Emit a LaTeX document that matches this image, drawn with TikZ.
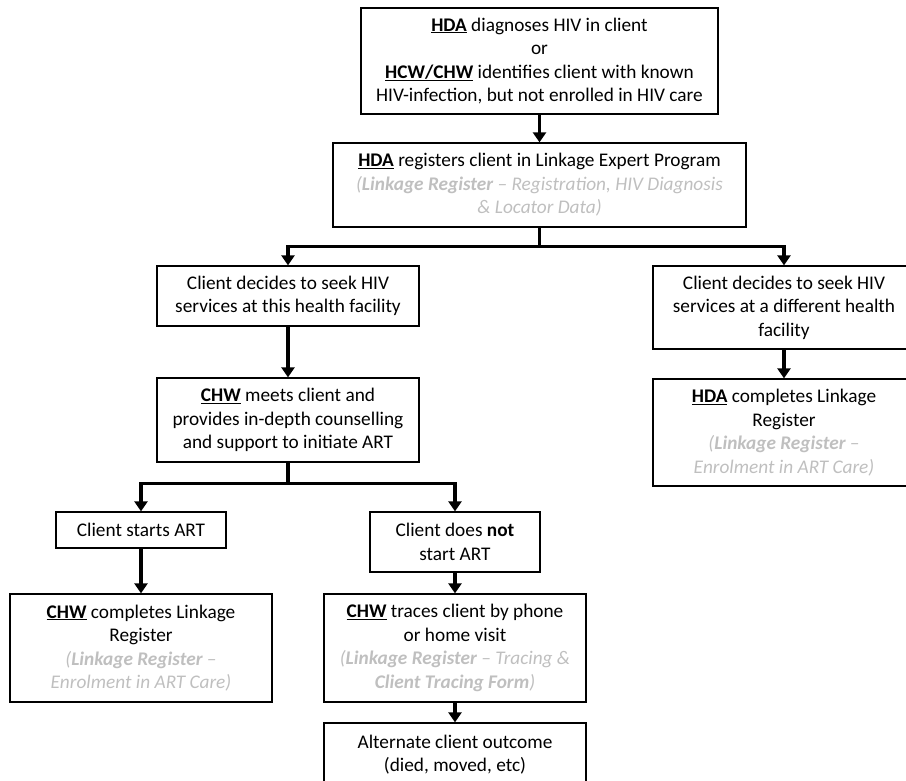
\documentclass[tikz,border=0pt]{standalone}
\usepackage{fontspec}
\setmainfont{Carlito}
\usetikzlibrary{arrows.meta}
\definecolor{notegrey}{RGB}{191,191,191}
\newcommand{\actor}[1]{\underline{\textbf{#1}}}
\newcommand{\regnote}[1]{{\color{notegrey}\itshape #1}}

\begin{document}
\begin{tikzpicture}[x=1pt,y=-1pt,
    box/.style={draw,line width=1.3pt,align=center,inner sep=0pt,
        font=\fontsize{19.3}{23.5}\selectfont},
    flow/.style={line width=3.2pt},
    flowarrow/.style={line width=3.2pt,-{Triangle[length=10pt,width=13pt]}}]
        \useasboundingbox (0,0) rectangle (906,781);

        % Diagnosis and registration
        \node[box,minimum width=357pt,minimum height=106pt] (diag) at (539.5,61)
            {\actor{HDA} diagnoses HIV in client\\ or\\
             \actor{HCW/CHW} identifies client with known\\
             HIV-infection, but not enrolled in HIV care};
        \node[box,minimum width=413pt,minimum height=84pt] (reg) at (539.5,185)
            {\actor{HDA} registers client in Linkage Expert Program\\
             \regnote{(\textbf{Linkage Register} -- Registration, HIV Diagnosis}\\
             \regnote{\& Locator Data)}};

        % Choice of facility
        \node[box,minimum width=262pt,minimum height=60pt] (here) at (288,296)
            {Client decides to seek HIV\\ services at this health facility};
        \node[box,minimum width=262pt,minimum height=83pt] (diff) at (784,307.5)
            {Client decides to seek HIV\\ services at a different health\\ facility};
        \node[box,minimum width=262pt,minimum height=84pt] (meets) at (288,420)
            {\actor{CHW} meets client and\\ provides in-depth counselling\\
             and support to initiate ART};
        \node[box,minimum width=262pt,minimum height=107pt] (hdadone) at (784,432.5)
            {\actor{HDA} completes Linkage\\ Register\\
             \regnote{(\textbf{Linkage Register} --}\\
             \regnote{Enrolment in ART Care)}};

        % ART start or not
        \node[box,minimum width=170pt,minimum height=36pt] (starts) at (141,530)
            {Client starts ART};
        \node[box,minimum width=170pt,minimum height=60pt] (nostart) at (455,542)
            {Client does \textbf{not}\\ start ART};
        \node[box,minimum width=262pt,minimum height=108pt] (chwdone) at (141,648)
            {\actor{CHW} completes Linkage\\ Register\\
             \regnote{(\textbf{Linkage Register} --}\\
             \regnote{Enrolment in ART Care)}};
        \node[box,minimum width=262pt,minimum height=108pt] (traces) at (455,648)
            {\actor{CHW} traces client by phone\\ or home visit\\
             \regnote{(\textbf{Linkage Register} -- Tracing \&}\\
             \regnote{\textbf{Client Tracing Form})}};
        \node[box,minimum width=262pt,minimum height=63pt] (outcome) at (455,754.5)
            {Alternate client outcome\\ (died, moved, etc)};

        % Connectors
        \draw[flowarrow] (diag.south) -- (reg.north);
        \draw[flow] (reg.south) -- ++(0,19) coordinate (fork);
        \draw[flowarrow] (fork) -| (here.north);
        \draw[flowarrow] (fork) -| (diff.north);
        \draw[flowarrow] (here.south) -- (meets.north);
        \draw[flowarrow] (diff.south) -- (hdadone.north);
        \draw[flow] (meets.south) -- ++(0,21) coordinate (split);
        \draw[flowarrow] (split) -| (starts.north);
        \draw[flowarrow] (split) -| (nostart.north);
        \draw[flowarrow] (starts.south) -- (chwdone.north);
        \draw[flowarrow] (nostart.south) -- (traces.north);
        \draw[flowarrow] (traces.south) -- (outcome.north);
    \end{tikzpicture}
\end{document}
